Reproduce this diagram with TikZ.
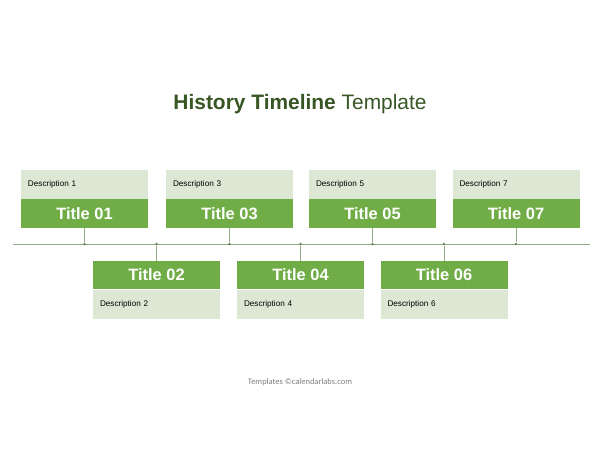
\documentclass[tikz,border=0pt]{standalone}
\usepackage{fontspec}
\setmainfont{Liberation Sans}
\newfontfamily\footfont{Carlito}
\usetikzlibrary{positioning}

\definecolor{tlgreen}{HTML}{70AD47}
\definecolor{tllight}{HTML}{DCE7D4}
\definecolor{tldark}{HTML}{375623}
\definecolor{tlline}{HTML}{93AE84}
\definecolor{tlgray}{HTML}{7F7F7F}

\tikzset{
  titlebox/.style={fill=tlgreen, text=white, font=\fontsize{16.5}{19}\selectfont\bfseries,
    minimum width=127bp, minimum height=28.5bp, inner sep=0pt},
  descbox/.style={fill=tllight, font=\fontsize{8.2}{10}\selectfont,
    text width=113bp, inner xsep=7bp, inner ysep=0pt, minimum height=29bp, align=left},
  tldot/.style={circle, fill=tlline!75!black, inner sep=0pt, minimum size=2.8bp},
  tlconn/.style={draw=tlline, line width=0.8bp}
}

\begin{document}
\begin{tikzpicture}[x=1bp,y=-1bp]

    \useasboundingbox (0,0) rectangle (600,450);

    \node (head) at (300,104.5) {\fontsize{21}{24}\selectfont\color{tldark}\textbf{History Timeline} Template};

    % time axis
    \coordinate (ls) at (13,244);
    \coordinate (le) at (590,244);
    \draw [tlconn] (ls) -- (le);

    % upper row
    \node [titlebox] (t1) at (84.5,213.5) {Title 01};
    \node [descbox, above=0pt of t1] (s1) {Description 1};
    \node [titlebox] (t3) at (229.5,213.5) {Title 03};
    \node [descbox, above=0pt of t3] (s3) {Description 3};
    \node [titlebox] (t5) at (372.5,213.5) {Title 05};
    \node [descbox, above=0pt of t5] (s5) {Description 5};
    \node [titlebox] (t7) at (516,213.5) {Title 07};
    \node [descbox, above=0pt of t7] (s7) {Description 7};

    % lower row
    \node [titlebox] (t2) at (156.5,275) {Title 02};
    \node [descbox, below=0pt of t2] (s2) {Description 2};
    \node [titlebox] (t4) at (300.5,275) {Title 04};
    \node [descbox, below=0pt of t4] (s4) {Description 4};
    \node [titlebox] (t6) at (444,275) {Title 06};
    \node [descbox, below=0pt of t6] (s6) {Description 6};

    % dots on the axis
    \node [tldot] (d1) at (84.5,244) {};
    \node [tldot] (d2) at (156.5,244) {};
    \node [tldot] (d3) at (229.5,244) {};
    \node [tldot] (d4) at (300.5,244) {};
    \node [tldot] (d5) at (372.5,244) {};
    \node [tldot] (d6) at (444,244) {};
    \node [tldot] (d7) at (516,244) {};

    \draw [tlconn] (t1) -- (d1);
    \draw [tlconn] (d2) -- (t2);
    \draw [tlconn] (t3) -- (d3);
    \draw [tlconn] (d4) -- (t4);
    \draw [tlconn] (t5) -- (d5);
    \draw [tlconn] (d6) -- (t6);
    \draw [tlconn] (t7) -- (d7);

    \node [text=tlgray, font=\footfont\fontsize{8.5}{10}\selectfont] (foot) at (300,382) {Templates ©calendarlabs.com};

  \end{tikzpicture}
\end{document}
